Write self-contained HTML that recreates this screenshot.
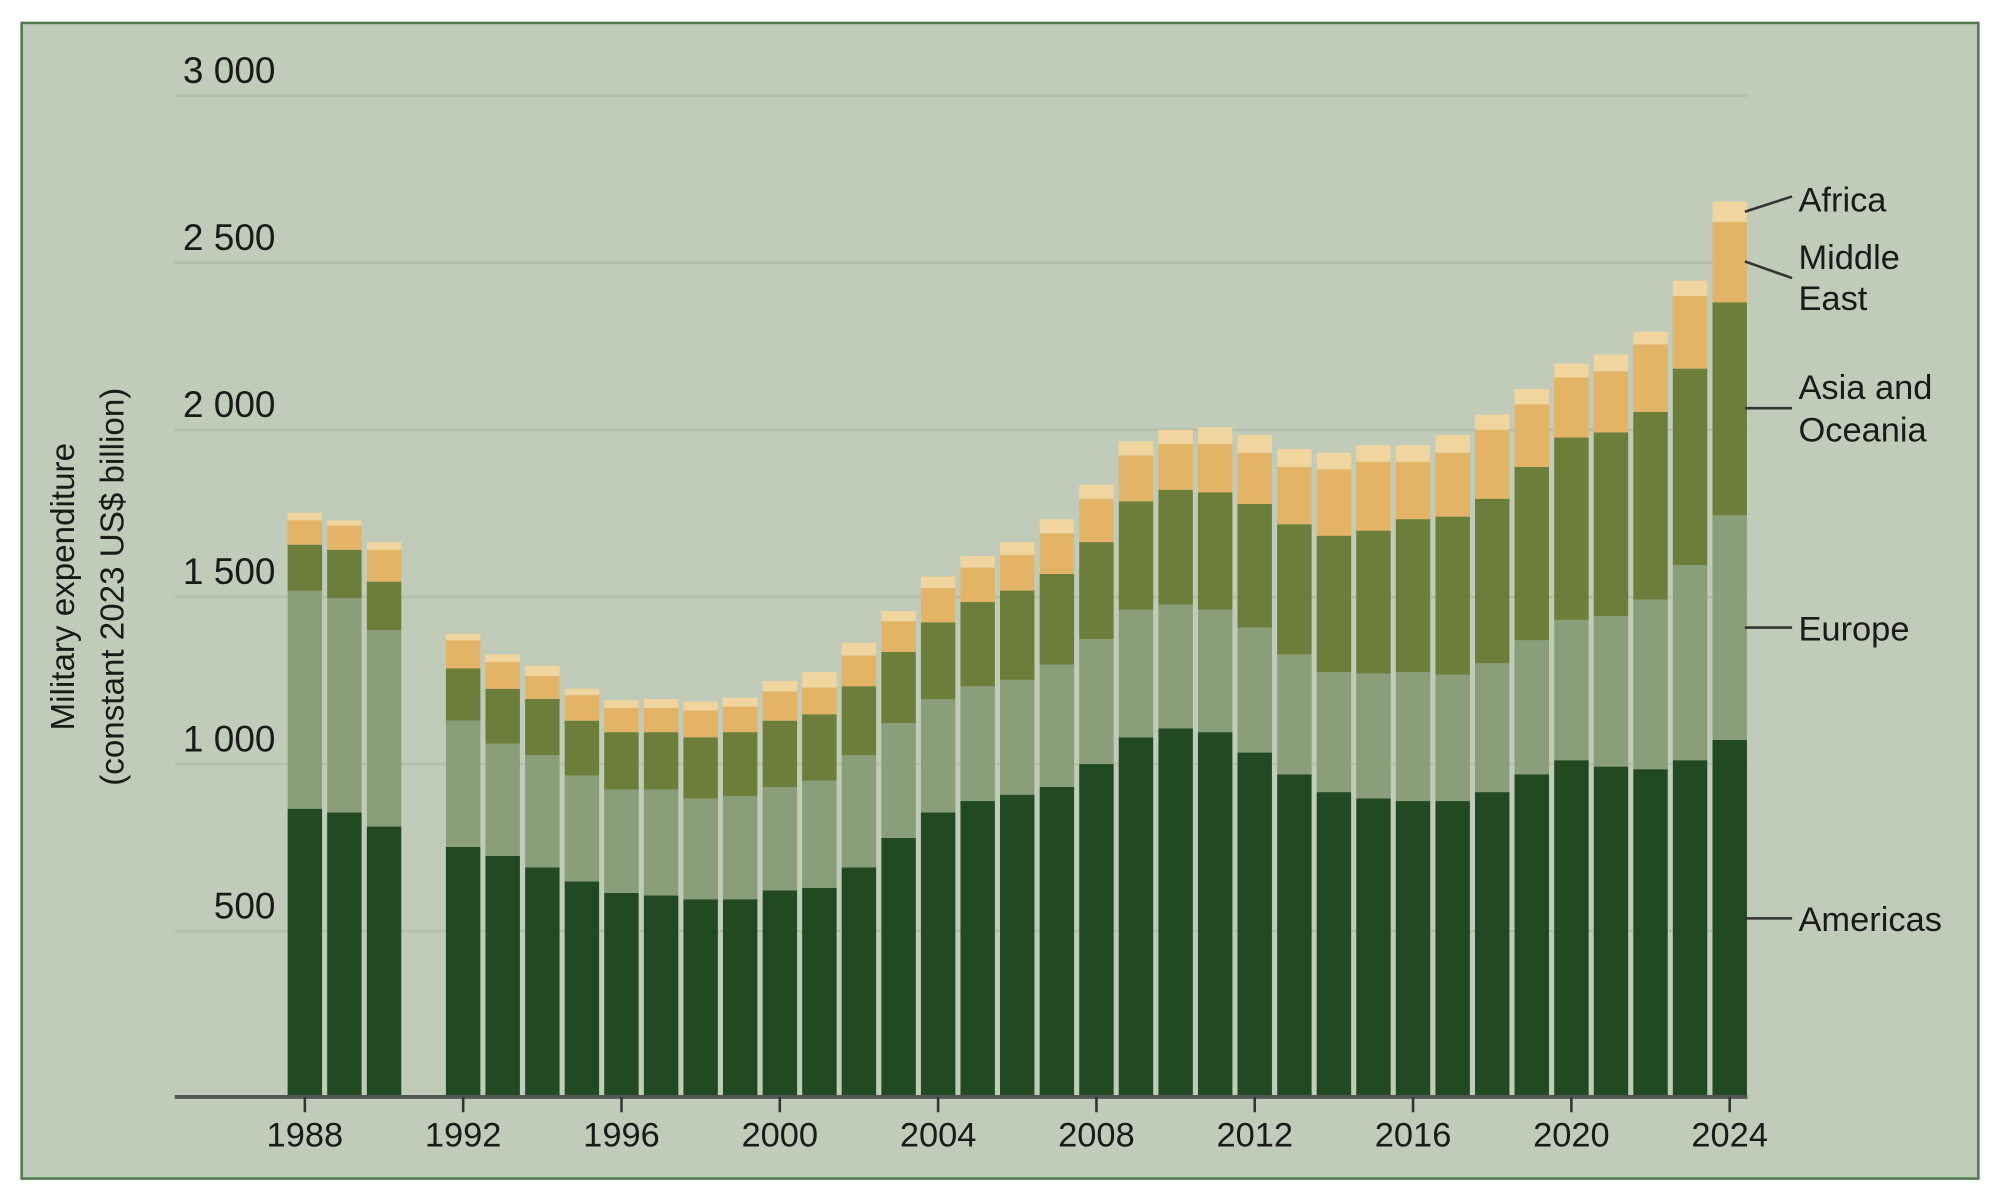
<!DOCTYPE html>
<html><head><meta charset="utf-8"><style>
html,body{margin:0;padding:0;background:#fff;}
svg{display:block;}
text{font-family:"Liberation Sans",sans-serif;fill:#1a1a1a;}
</style></head><body>
<svg id="s" width="2000" height="1199" viewBox="0 0 1568 940" preserveAspectRatio="none" xmlns="http://www.w3.org/2000/svg">
<rect x="0" y="0" width="1568" height="940" fill="#fff"/>
<rect x="17" y="18" width="1534" height="906" fill="#c0cbb9" stroke="#4f7a4c" stroke-width="2"/>
<g stroke="#b3beab" stroke-width="2">
<line x1="137" y1="75" x2="1370" y2="75"/>
<line x1="137" y1="206" x2="1370" y2="206"/>
<line x1="137" y1="337" x2="1370" y2="337"/>
<line x1="137" y1="468" x2="1370" y2="468"/>
<line x1="137" y1="599" x2="1370" y2="599"/>
<line x1="137" y1="730" x2="1370" y2="730"/>
</g>
<g font-size="29" text-anchor="end">
<text x="216" y="65">3 000</text>
<text x="216" y="196">2 500</text>
<text x="216" y="327">2 000</text>
<text x="216" y="458">1 500</text>
<text x="216" y="589">1 000</text>
<text x="216" y="720">500</text>
</g>
<g font-size="26" text-anchor="middle" transform="rotate(-90)">
<text x="-460" y="58">Military expenditure</text>
<text x="-460" y="97">(constant 2023 US$ billion)</text>
</g>
<g id="bars"></g>
<line x1="137" y1="860" x2="1370" y2="860" stroke="#555" stroke-width="3"/>
<g id="ticks" stroke="#333" stroke-width="2"></g>
<g font-size="27" text-anchor="middle" id="xl"></g>
<g stroke="#333" stroke-width="2" fill="none">
<line x1="1368" y1="166" x2="1405" y2="154"/>
<line x1="1368" y1="205" x2="1405" y2="218"/>
<line x1="1368" y1="320" x2="1405" y2="320"/>
<line x1="1368" y1="492" x2="1405" y2="492"/>
<line x1="1368" y1="720" x2="1405" y2="720"/>
</g>
<g font-size="27">
<text x="1410" y="166">Africa</text>
<text x="1410" y="211">Middle</text>
<text x="1410" y="243">East</text>
<text x="1410" y="313">Asia and</text>
<text x="1410" y="346">Oceania</text>
<text x="1410" y="502">Europe</text>
<text x="1410" y="730">Americas</text>
</g>
</svg>
<script>
var d={1988:[634,463,427,408,402],1989:[637,469,431,412,408],1990:[648,494,456,431,425],
1992:[664,565,524,502,497],1993:[671,583,540,519,513],1994:[680,592,548,530,522],1995:[691,608,565,545,540],
1996:[700,619,574,555,549],1997:[702,619,574,555,548],1998:[705,626,578,557,550],1999:[705,624,574,554,547],
2000:[698,617,565,542,534],2001:[696,612,560,539,527],2002:[680,592,538,514,504],2003:[657,567,511,487,479],
2004:[637,548,488,461,452],2005:[628,538,472,445,436],2006:[623,533,463,435,425],2007:[617,521,450,418,407],
2008:[599,501,425,391,380],2009:[578,478,393,357,346],2010:[571,474,384,348,337],2011:[574,478,386,348,335],
2012:[590,492,395,355,341],2013:[607,513,411,366,352],2014:[621,527,420,368,355],2015:[626,528,416,362,349],
2016:[628,527,407,362,349],2017:[628,529,405,355,341],2018:[621,520,391,337,325],2019:[607,502,366,317,305],
2020:[596,486,343,296,285],2021:[601,483,339,291,278],2022:[603,470,323,270,260],2023:[596,443,289,232,220],
2024:[580,404,237,174,158]};
var cols=["#224a22","#8a9e7a","#6d7d3a","#e3b466","#f0d59e"];
var g=document.getElementById("bars"),h="";
for(var y in d){var cx=239+(y-1988)*31.03,v=d[y],prev=860;
for(var i=0;i<5;i++){h+='<rect x="'+(cx-13.5).toFixed(1)+'" y="'+v[i]+'" width="27" height="'+(prev-v[i])+'" fill="'+cols[i]+'"/>';prev=v[i];}}
g.innerHTML=h;
var t="",l="";
for(var y=1988;y<=2024;y+=4){var cx=239+(y-1988)*31.03;t+='<line x1="'+cx+'" y1="860" x2="'+cx+'" y2="872"/>';l+='<text x="'+cx+'" y="899">'+y+'</text>';}
document.getElementById("ticks").innerHTML=t;document.getElementById("xl").innerHTML=l;
</script>
</body></html>
